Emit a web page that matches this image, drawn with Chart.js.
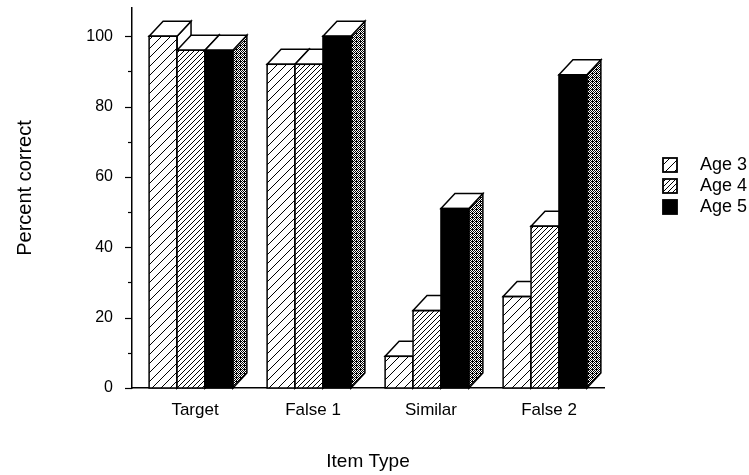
<!DOCTYPE html>
<html>
<head>
<meta charset="utf-8">
<script src="https://cdn.jsdelivr.net/npm/chart.js@4.4.0/dist/chart.umd.min.js"></script>
<style>
html,body{margin:0;padding:0;background:#fff;}
#wrap{width:749px;height:475px;position:relative;}
</style>
</head>
<body>
<div id="wrap"><canvas id="c" width="749" height="475"></canvas></div>
<script>
const categories = ['Target', 'False 1', 'Similar', 'False 2'];
const seriesNames = ['Age 3', 'Age 4', 'Age 5'];
const age3 = [100, 92, 9, 26];
const age4 = [96, 92, 22, 46];
const age5 = [96, 100, 51, 89];
const yTickLabels = [0, 20, 40, 60, 80, 100];
const yAxisTitle = 'Percent correct';
const xAxisTitle = 'Item Type';

const FONT = "'Liberation Sans', Arial, Helvetica, sans-serif";

function hatch(spacing, lw) {
  const c = document.createElement('canvas');
  c.width = spacing; c.height = spacing;
  const g = c.getContext('2d');
  g.fillStyle = '#fff'; g.fillRect(0, 0, spacing, spacing);
  g.strokeStyle = '#000'; g.lineWidth = lw;
  g.beginPath();
  g.moveTo(-1, spacing + 1); g.lineTo(spacing + 1, -1);
  g.moveTo(-1, 1); g.lineTo(1, -1);
  g.moveTo(spacing - 1, spacing + 1); g.lineTo(spacing + 1, spacing - 1);
  g.stroke();
  return document.getElementById('c').getContext('2d').createPattern(c, 'repeat');
}
function stipple() {
  const c = document.createElement('canvas');
  c.width = 4; c.height = 4;
  const g = c.getContext('2d');
  g.fillStyle = '#fff'; g.fillRect(0, 0, 4, 4);
  g.fillStyle = '#000';
  [[0,0],[2,0],[1,1],[3,1],[0,2],[2,2],[1,3],[3,3],[0,1]].forEach(p => g.fillRect(p[0], p[1], 1, 1));
  return document.getElementById('c').getContext('2d').createPattern(c, 'repeat');
}
const fills = [hatch(9, 1), hatch(5, 1), '#000'];
const sideFills = ['#fff', '#fff', stipple()];
const DX = 14, DY = 15;

// Draw bars as 3D boxes, dataset 0 first so later series overlap earlier sides
const bar3d = {
  id: 'bar3d',
  afterDatasetsDraw(chart) {
    const ctx = chart.ctx;
    ctx.save();
    ctx.lineWidth = 1.5;
    ctx.strokeStyle = '#000';
    ctx.lineJoin = 'miter';
    chart.data.datasets.forEach((ds, i) => {
      const meta = chart.getDatasetMeta(i);
      meta.data.forEach(el => {
        const p = el.getProps(['x', 'y', 'base', 'width'], true);
        const l = p.x - p.width / 2, r = p.x + p.width / 2, t = p.y, b = p.base;
        ctx.fillStyle = fills[i];
        ctx.fillRect(l, t, r - l, b - t);
        ctx.beginPath();
        ctx.moveTo(r, t); ctx.lineTo(r + DX, t - DY); ctx.lineTo(r + DX, b - DY); ctx.lineTo(r, b);
        ctx.closePath();
        ctx.fillStyle = sideFills[i]; ctx.fill(); ctx.stroke();
        ctx.beginPath();
        ctx.moveTo(l, t); ctx.lineTo(l + DX, t - DY); ctx.lineTo(r + DX, t - DY); ctx.lineTo(r, t);
        ctx.closePath();
        ctx.fillStyle = '#fff'; ctx.fill(); ctx.stroke();
        ctx.strokeRect(l, t, r - l, b - t);
      });
    });
    ctx.restore();
  }
};

const yTicksPlugin = {
  id: 'yTicksPlugin',
  afterDraw(chart) {
    const ctx = chart.ctx, y = chart.scales.y, x0 = chart.chartArea.left;
    ctx.save();
    ctx.strokeStyle = '#000'; ctx.lineWidth = 1.2;
    for (let v = 0; v <= 100; v += 10) {
      const py = Math.round(y.getPixelForValue(v)) + 0.5;
      const len = (v % 20 === 0) ? 7 : 4;
      ctx.beginPath(); ctx.moveTo(x0 - len, py); ctx.lineTo(x0, py); ctx.stroke();
    }
    // y-axis title
    ctx.translate(25, 188);
    ctx.rotate(-Math.PI / 2);
    ctx.font = '20px ' + FONT;
    ctx.fillStyle = '#000';
    ctx.textAlign = 'center';
    ctx.textBaseline = 'middle';
    ctx.fillText(yAxisTitle, 0, 0);
    ctx.restore();
  }
};

const legendPlugin = {
  id: 'customLegend',
  afterDraw(chart) {
    const ctx = chart.ctx;
    const ys = [165, 186, 207];
    ctx.save();
    ctx.font = '18px ' + FONT;
    ctx.textBaseline = 'middle';
    ctx.textAlign = 'left';
    seriesNames.forEach((n, i) => {
      ctx.fillStyle = fills[i];
      ctx.fillRect(663, ys[i] - 7, 14, 14);
      ctx.strokeStyle = '#000'; ctx.lineWidth = 1.8;
      ctx.strokeRect(663, ys[i] - 7, 14, 14);
      ctx.fillStyle = '#000';
      ctx.fillText(n, 700, ys[i]);
    });
    ctx.restore();
  }
};

const datasets = [age3, age4, age5].map((d, i) => ({
  label: seriesNames[i],
  data: d,
  backgroundColor: 'rgba(0,0,0,0)',
  borderWidth: 0,
  barPercentage: 1,
  categoryPercentage: 0.71
}));

new Chart(document.getElementById('c'), {
  type: 'bar',
  data: { labels: categories, datasets },
  options: {
    responsive: false,
    animation: false,
    layout: { padding: { left: 0, right: 145, top: 8, bottom: 0 } },
    plugins: { legend: { display: false }, tooltip: { enabled: false } },
    scales: {
      x: {
        grid: { display: false, drawTicks: false },
        border: { display: true, color: '#000', width: 1.5 },
        ticks: { color: '#000', font: { family: FONT, size: 17 }, padding: 12, labelOffset: 4 },
        title: { display: true, text: xAxisTitle, color: '#000', font: { family: FONT, size: 19 }, padding: { top: 0, bottom: 2 } },
        afterFit(s) { s.height = 87; s.paddingLeft = 0; s.paddingRight = 0; }
      },
      y: {
        min: 0, max: 108,
        grid: { display: false, drawTicks: false },
        border: { display: true, color: '#000', width: 1.5 },
        afterBuildTicks(s) { s.ticks = yTickLabels.map(v => ({ value: v })); },
        ticks: { color: '#000', font: { family: FONT, size: 16 }, padding: 19 },
        title: { display: false, text: yAxisTitle },
        afterFit(s) { s.width = 132; s.paddingTop = 0; s.paddingBottom = 0; }
      }
    }
  },
  plugins: [bar3d, yTicksPlugin, legendPlugin]
});
</script>
</body>
</html>
